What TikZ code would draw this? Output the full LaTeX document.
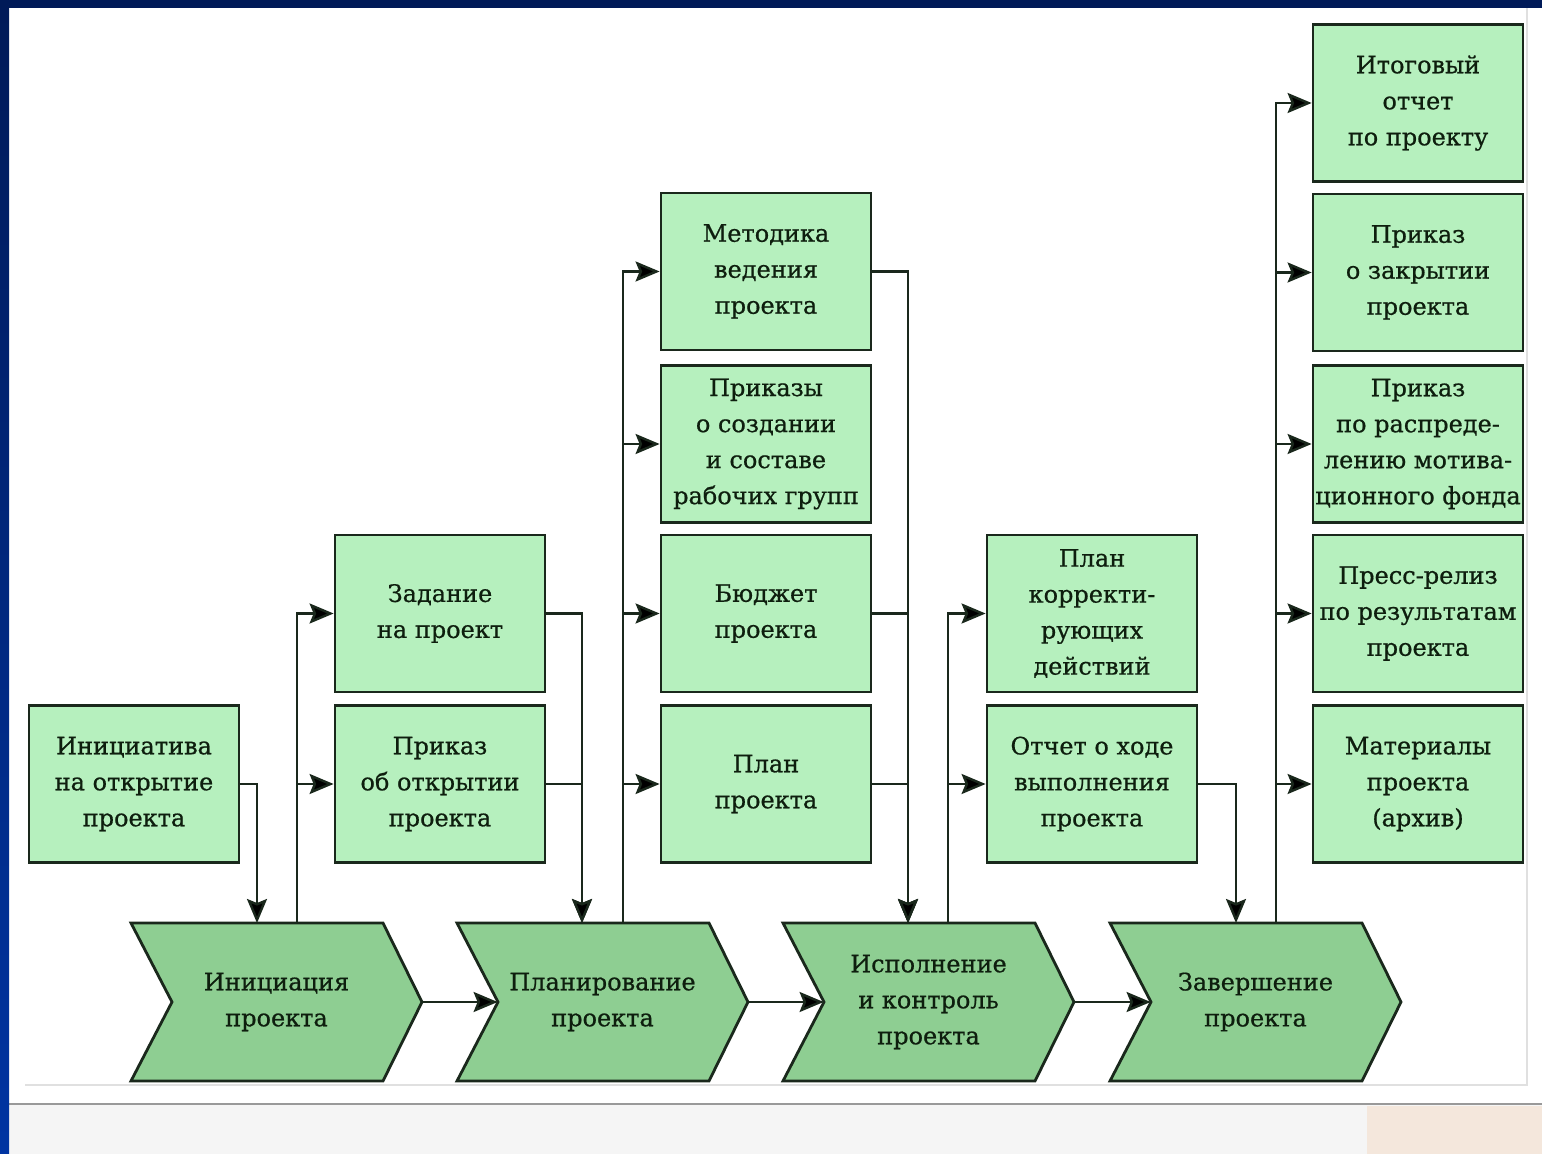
\documentclass[tikz,border=0pt]{standalone}
\usepackage{fontspec}
\setmainfont{DejaVu Serif}[FakeBold=0.7]
\usetikzlibrary{arrows.meta,calc}
\definecolor{boxfill}{RGB}{182,240,190}
\definecolor{chevfill}{RGB}{142,206,146}
\definecolor{edge}{RGB}{26,40,28}
\definecolor{txt}{RGB}{14,30,14}
\definecolor{navy}{RGB}{0,26,88}
\definecolor{blueb}{RGB}{0,52,162}
\definecolor{peach}{RGB}{244,231,220}
\begin{document}
\begin{tikzpicture}[x=0.5pt,y=-0.5pt,
  doc/.style={draw=edge, line width=1.4pt, fill=boxfill, minimum width=105pt, minimum height=78.5pt,
    inner sep=1pt, align=center, font=\fontsize{12}{18}\selectfont, text=txt},
  chevtext/.style={minimum width=145.5pt, minimum height=79pt, inner sep=0pt, align=center,
    font=\fontsize{12}{18}\selectfont, text=txt},
  chev/.style={draw=edge, line width=1.4pt, fill=chevfill, line join=miter},
  chevpic/.pic={\draw[chev] (0,0) -- (252,0) -- (291,79) -- (252,158) -- (0,158) -- (41,79) -- cycle;},
  arr/.style={draw=edge, line width=1.2pt, -{Stealth[length=12pt,width=10pt,inset=2pt,fill=black]}},
  ln/.style={draw=edge, line width=1.2pt}]
\useasboundingbox (0,0) rectangle (1542,1154);
% background
\fill[white] (0,0) rectangle (1542,1154);
\fill[black!4] (9,1104) rectangle (1542,1154);
\fill[peach] (1367,1106) rectangle (1542,1154);
\draw[black!40, line width=1.2pt] (9,1104) -- (1542,1104);
\draw[black!12, line width=0.6pt] (25,1085) -- (1527,1085) -- (1527,8);
\shade[top color=navy, bottom color=blueb] (0,0) rectangle (9,1154);
\fill[navy] (0,0) rectangle (1542,8);

% chevrons
\pic at (131,923) {chevpic};
\pic at (457,923) {chevpic};
\pic at (783,923) {chevpic};
\pic at (1110,923) {chevpic};
\node[chevtext] (c1) at (276.5,1002) {Инициация\\проекта};
\node[chevtext] (c2) at (602.5,1002) {Планирование\\проекта};
\node[chevtext] (c3) at (928.5,1002) {Исполнение\\и контроль\\проекта};
\node[chevtext] (c4) at (1255.5,1002) {Завершение\\проекта};

\coordinate (c1in) at (257,923);
\coordinate (c1out) at (297,923);
\coordinate (c2in) at (582,923);
\coordinate (c2out) at (623,923);
\coordinate (c3in) at (908,923);
\coordinate (c3out) at (948,923);
\coordinate (c4in) at (1236,923);
\coordinate (c4out) at (1276,923);

% boxes
\node[doc] (ini) at (134,784) {Инициатива\\на открытие\\проекта};
\node[doc] (zad) at (440,613.5) {Задание\\на проект};
\node[doc] (otk) at (440,784) {Приказ\\об открытии\\проекта};
\node[doc] (met) at (766,271.5) {Методика\\ведения\\проекта};
\node[doc] (prz) at (766,444) {Приказы\\о создании\\и составе\\рабочих групп};
\node[doc] (bud) at (766,613.5) {Бюджет\\проекта};
\node[doc] (pln) at (766,784) {План\\проекта};
\node[doc] (kor) at (1092,613.5) {План\\корректи-\\рующих\\действий};
\node[doc] (otc) at (1092,784) {Отчет о ходе\\выполнения\\проекта};
\node[doc] (itg) at (1418,103) {Итоговый\\отчет\\по проекту};
\node[doc] (zak) at (1418,272.5) {Приказ\\о закрытии\\проекта};
\node[doc] (rsp) at (1418,444) {Приказ\\по распреде-\\лению мотива-\\ционного фонда};
\node[doc] (prs) at (1418,613.5) {Пресс-релиз\\по результатам\\проекта};
\node[doc] (mat) at (1418,784) {Материалы\\проекта\\(архив)};

% connectors
\draw[arr] (c1.east) -- ($(c2.west)+(41,0)$);
\draw[arr] (c2.east) -- ($(c3.west)+(41,0)$);
\draw[arr] (c3.east) -- ($(c4.west)+(41,0)$);

\draw[arr] (ini.east) -| (c1in);
\draw[arr] (c1out) |- (zad.west);
\draw[arr] (c1out) |- (otk.west);

\draw[arr] (zad.east) -| (c2in);
\draw[arr] (otk.east) -| (c2in);
\draw[arr] (c2out) |- (met.west);
\draw[arr] (c2out) |- (prz.west);
\draw[arr] (c2out) |- (bud.west);
\draw[arr] (c2out) |- (pln.west);

\draw[arr] (met.east) -| (c3in);
\draw[arr] (bud.east) -| (c3in);
\draw[arr] (pln.east) -| (c3in);
\draw[arr] (c3out) |- (kor.west);
\draw[arr] (c3out) |- (otc.west);

\draw[arr] (otc.east) -| (c4in);
\draw[arr] (c4out) |- (itg.west);
\draw[arr] (c4out) |- (zak.west);
\draw[arr] (c4out) |- (rsp.west);
\draw[arr] (c4out) |- (prs.west);
\draw[arr] (c4out) |- (mat.west);
\end{tikzpicture}
\end{document}
